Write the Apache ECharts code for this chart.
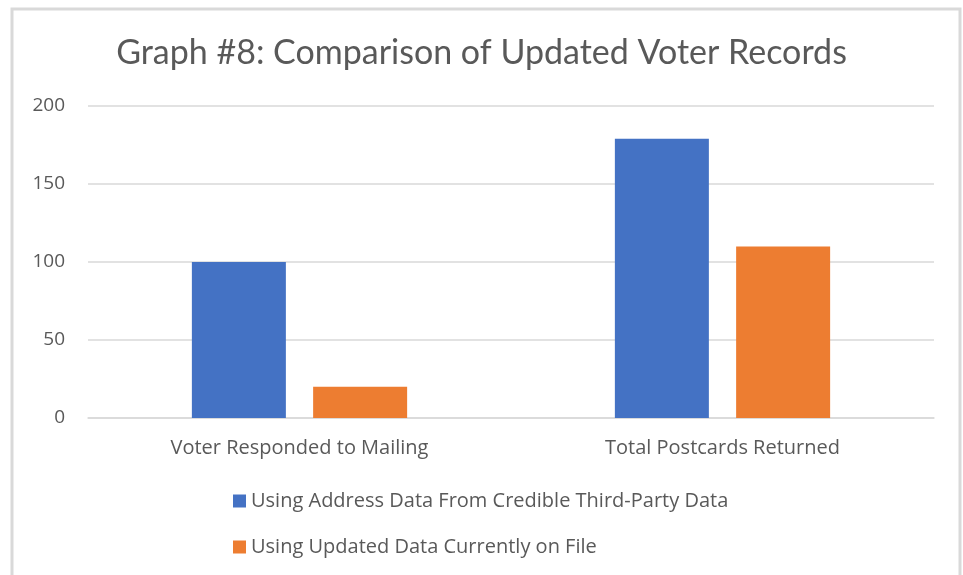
<!DOCTYPE html>
<html>
<head>
<meta charset="utf-8">
<script src="https://cdn.jsdelivr.net/npm/echarts@6/dist/echarts.min.js"></script>
<style>
  html, body { margin: 0; padding: 0; background: #fff; }
  #chart { width: 963px; height: 575px; }
</style>
</head>
<body>
<div id="chart"></div>
<script>
const categories = ['Voter Responded to Mailing', 'Total Postcards Returned'];
const seriesNames = [
  'Using Address Data From Credible Third-Party Data',
  'Using Updated Data Currently on File'
];
const thirdPartyValues = [100, 179];
const onFileValues = [20, 110];
const colors = ['#4472C4', '#ED7D31'];

const titleFont = 'Lato, "Open Sans", sans-serif';
const labelFont = '"Open Sans", Lato, sans-serif';
const myChart = echarts.init(document.getElementById('chart'));

myChart.setOption({
  animation: false,
  textStyle: { fontFamily: labelFont },
  title: {
    text: 'Graph #8: Comparison of Updated Voter Records',
    left: 'center',
    top: 31,
    textStyle: { fontSize: 34, fontWeight: 'normal', color: '#595959', fontFamily: titleFont }
  },
  graphic: [
    {
      type: 'rect',
      shape: { x: 12, y: 9, width: 948, height: 620 },
      style: { fill: 'none', stroke: '#d9d9d9', lineWidth: 3 },
      silent: true
    }
  ],
  legend: {
    orient: 'vertical',
    left: 228,
    top: 486,
    itemWidth: 13,
    itemHeight: 13,
    itemGap: 26,
    icon: 'rect',
    textStyle: { fontSize: 20, color: '#595959', lineHeight: 20, fontFamily: labelFont },
    data: seriesNames
  },
  grid: { left: 88, right: 29, top: 106, bottom: 157 },
  xAxis: {
    type: 'category',
    data: categories,
    axisTick: { show: false },
    axisLine: { lineStyle: { color: '#d9d9d9', width: 1.5 } },
    axisLabel: { fontSize: 20, color: '#595959', margin: 20, fontFamily: labelFont }
  },
  yAxis: {
    type: 'value',
    min: 0,
    max: 200,
    interval: 50,
    axisLine: { show: false },
    axisTick: { show: false },
    splitLine: { lineStyle: { color: '#d9d9d9', width: 1.5 } },
    axisLabel: { fontSize: 19, color: '#595959', margin: 23, fontFamily: labelFont }
  },
  series: [
    {
      name: seriesNames[0],
      type: 'bar',
      data: thirdPartyValues,
      barWidth: 94,
      barGap: '29%',
      itemStyle: { color: colors[0] }
    },
    {
      name: seriesNames[1],
      type: 'bar',
      data: onFileValues,
      barWidth: 94,
      itemStyle: { color: colors[1] }
    }
  ]
});
</script>
</body>
</html>
